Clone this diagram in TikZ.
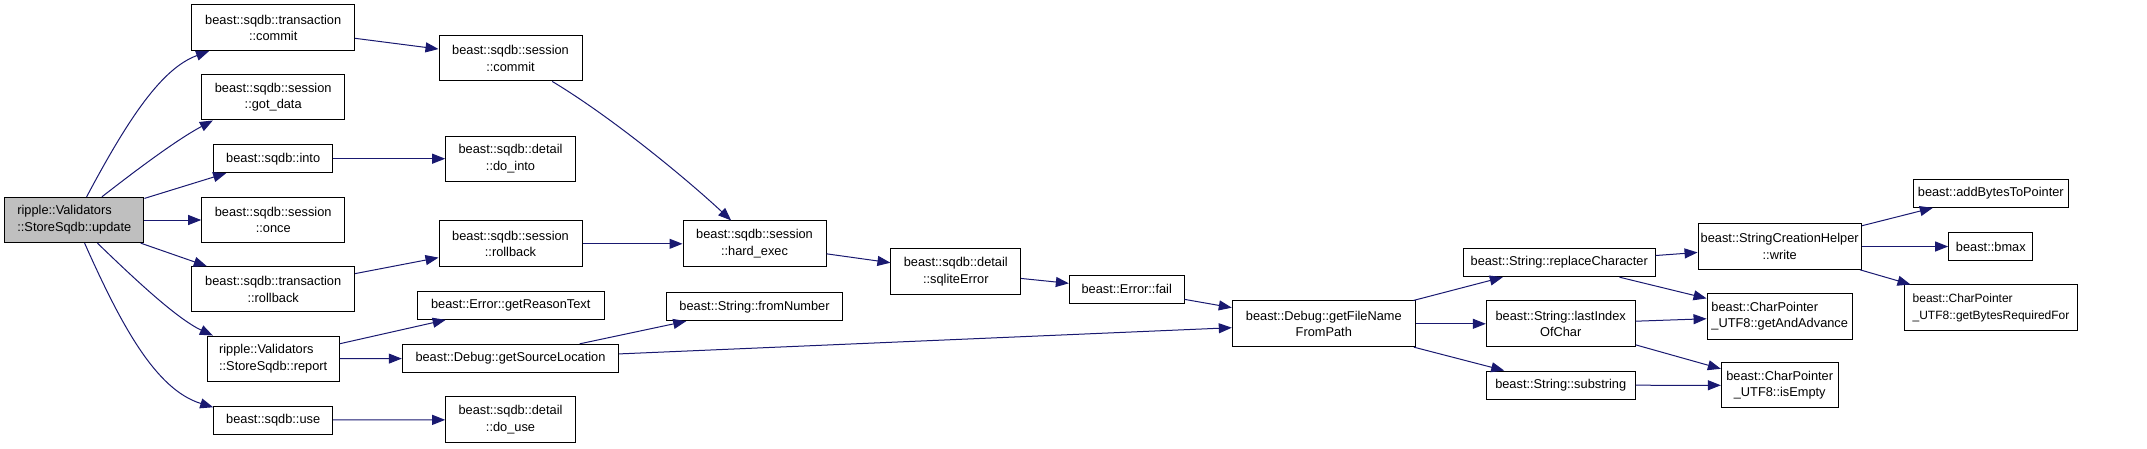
\documentclass[tikz,border=0pt]{standalone}
\usepackage{fontspec}
\setmainfont{Liberation Sans}
\usetikzlibrary{arrows.meta}
\definecolor{edgeblue}{HTML}{191970}
\definecolor{rootgray}{HTML}{BFBFBF}
\begin{document}
\begin{tikzpicture}[x=1pt,y=1pt,
  box/.style={draw=black,line width=1pt,rectangle,inner sep=0pt,align=center,
    font=\fontsize{12.8}{16.7}\selectfont,fill=white},
  lbox/.style={box,align=left},
  e/.style={draw=edgeblue,line width=1pt,-{Triangle[length=13pt,width=10pt]}}]
\useasboundingbox (0,0) rectangle (2147,-448);
% column 0
\node[lbox,fill=rootgray,minimum width=139.3pt,minimum height=45.3pt] (upd) at (74.3,-220) {ripple::Validators\\::StoreSqdb::update};
% column 1
\node[box,minimum width=163pt,minimum height=45.7pt] (tcommit) at (273.2,-27.8) {beast::sqdb::transaction\\::commit};
\node[box,minimum width=143pt,minimum height=45.3pt] (gotdata) at (273.2,-97.3) {beast::sqdb::session\\::got\_data};
\node[box,minimum width=119pt,minimum height=28pt] (into) at (273.2,-158.7) {beast::sqdb::into};
\node[box,minimum width=143pt,minimum height=45.3pt] (once) at (273.2,-220) {beast::sqdb::session\\::once};
\node[box,minimum width=163pt,minimum height=45.3pt] (trollback) at (273.2,-289.3) {beast::sqdb::transaction\\::rollback};
\node[lbox,minimum width=132.3pt,minimum height=45.3pt] (report) at (273.2,-358.7) {ripple::Validators\\::StoreSqdb::report};
\node[box,minimum width=119pt,minimum height=28pt] (use) at (273.2,-420) {beast::sqdb::use};
% column 2
\node[box,minimum width=143pt,minimum height=45.3pt] (scommit) at (510.5,-58.3) {beast::sqdb::session\\::commit};
\node[box,minimum width=129.6pt,minimum height=45.3pt] (dointo) at (510.5,-158.7) {beast::sqdb::detail\\::do\_into};
\node[box,minimum width=143pt,minimum height=45.7pt] (srollback) at (510.5,-243.8) {beast::sqdb::session\\::rollback};
\node[box,minimum width=187.3pt,minimum height=28.3pt] (reason) at (510.7,-305.2) {beast::Error::getReasonText};
\node[box,minimum width=216.4pt,minimum height=28.4pt] (srcloc) at (510.5,-358.5) {beast::Debug::getSourceLocation};
\node[box,minimum width=129.6pt,minimum height=45.7pt] (douse) at (510.5,-419.8) {beast::sqdb::detail\\::do\_use};
% column 3
\node[box,minimum width=143pt,minimum height=45.7pt] (hardexec) at (754.5,-243.8) {beast::sqdb::session\\::hard\_exec};
\node[box,minimum width=176.4pt,minimum height=28pt] (fromnum) at (754.5,-306.7) {beast::String::fromNumber};
% column 4..
\node[box,minimum width=129.7pt,minimum height=45.7pt] (sqlerr) at (955.8,-271.8) {beast::sqdb::detail\\::sqliteError};
\node[box,minimum width=114.7pt,minimum height=28.3pt] (fail) at (1126.7,-289.2) {beast::Error::fail};
\node[box,minimum width=183pt,minimum height=45.7pt] (getfn) at (1323.8,-323.8) {beast::Debug::getFileName\\FromPath};
\node[box,minimum width=191.7pt,minimum height=28.4pt] (replace) at (1559.2,-262.5) {beast::String::replaceCharacter};
\node[box,minimum width=148.7pt,minimum height=45.7pt] (lastidx) at (1560.7,-323.8) {beast::String::lastIndex\\OfChar};
\node[box,minimum width=148.7pt,minimum height=28.3pt] (substr) at (1560.7,-385.2) {beast::String::substring};
\node[box,minimum width=163.3pt,minimum height=45.6pt] (write) at (1779.7,-246.5) {beast::StringCreationHelper\\::write};
\node[lbox,minimum width=145.3pt,minimum height=45.7pt] (getadv) at (1779.7,-316.2) {beast::CharPointer\\\_UTF8::getAndAdvance};
\node[box,minimum width=116.7pt,minimum height=45.3pt] (isempty) at (1779.7,-385.3) {beast::CharPointer\\\_UTF8::isEmpty};
\node[box,minimum width=155pt,minimum height=28.3pt] (addbytes) at (1990.8,-193.2) {beast::addBytesToPointer};
\node[box,minimum width=84.3pt,minimum height=28.4pt] (bmax) at (1990.8,-246.5) {beast::bmax};
\node[lbox,minimum width=172.6pt,minimum height=45.7pt,font=\fontsize{12}{16.7}\selectfont] (getbytes) at (1991,-307.8) {beast::CharPointer\\\_UTF8::getBytesRequiredFor};
% edges from root
\draw[e] (upd.62) .. controls +(62:90) and +(200:50) .. (tcommit.200);
\draw[e] (upd.40) .. controls +(38:45) and +(208:40) .. (gotdata.201);
\draw[e] (upd) -- (into);
\draw[e] (upd) -- (once);
\draw[e] (upd) -- (trollback);
\draw[e] (upd.-45) .. controls +(-44:50) and +(155:40) .. (report.159);
\draw[e] (upd.-66) .. controls +(-66:90) and +(163:60) .. (use.168);
% other edges
\draw[e] (tcommit) -- (scommit);
\draw[e] (into) -- (dointo);
\draw[e] (trollback) -- (srollback);
\draw[e] (report) -- (reason);
\draw[e] (report) -- (srcloc);
\draw[e] (use) -- (douse);
\draw[e] (scommit.-29) .. controls +(-31:70) and +(137:60) .. (hardexec.135);
\draw[e] (srollback) -- (hardexec);
\draw[e] (srcloc) -- (fromnum);
\draw[e] (srcloc) -- (getfn);
\draw[e] (hardexec) -- (sqlerr);
\draw[e] (sqlerr) -- (fail);
\draw[e] (fail) -- (getfn);
\draw[e] (getfn) -- (replace);
\draw[e] (getfn) -- (lastidx);
\draw[e] (getfn) -- (substr);
\draw[e] (replace) -- (write);
\draw[e] (replace) -- (getadv);
\draw[e] (lastidx) -- (getadv);
\draw[e] (lastidx) -- (isempty);
\draw[e] (substr) -- (isempty);
\draw[e] (write) -- (addbytes);
\draw[e] (write) -- (bmax);
\draw[e] (write) -- (getbytes);
\end{tikzpicture}
\end{document}
